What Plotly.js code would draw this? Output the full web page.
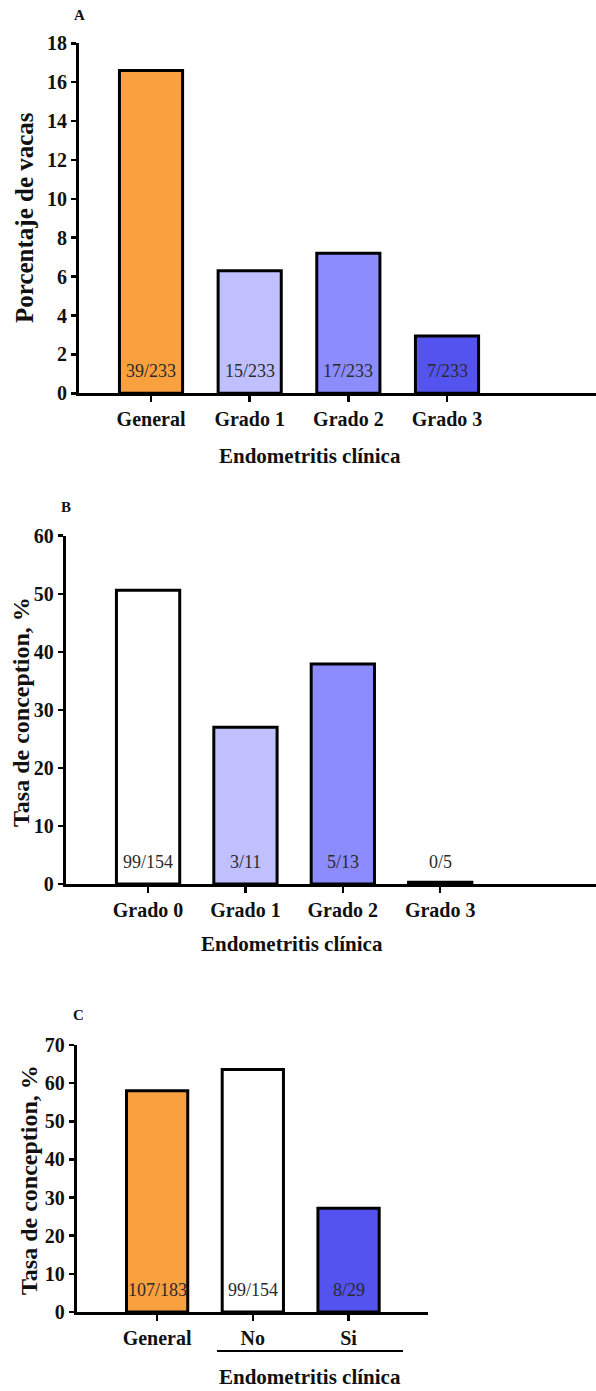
<!DOCTYPE html>
<html>
<head>
<meta charset="utf-8">
<script src="https://cdn.plot.ly/plotly-3.0.1.min.js"></script>
<style>html,body{margin:0;padding:0;background:#fff;}#chart{width:596px;height:1391px;}</style>
</head>
<body>
<div id="chart"></div>
<script>
// Panel A
const catsA = ['General', 'Grado 1', 'Grado 2', 'Grado 3'];
const valsA = [16.6, 6.3, 7.2, 2.95];
const countsA = ['39/233', '15/233', '17/233', '7/233'];
const colorsA = ['#F9A03F', '#C0BFFF', '#8D8CFF', '#5553F0'];
// Panel B
const catsB = ['Grado 0', 'Grado 1', 'Grado 2', 'Grado 3'];
const valsB = [50.6, 27.0, 37.9, 0.3];
const countsB = ['99/154', '3/11', '5/13', '0/5'];
const colorsB = ['#FFFFFF', '#C0BFFF', '#8D8CFF', '#5553F0'];
// Panel C
const catsC = ['General', 'No', 'Si'];
const valsC = [58.0, 63.6, 27.2];
const countsC = ['107/183', '99/154', '8/29'];
const colorsC = ['#F9A03F', '#FFFFFF', '#5553F0'];

const W = 596, H = 1391;
const FONT = 'Liberation Serif, Times New Roman, serif';
const px = v => v / W;
const py = v => 1 - v / H;

function barTrace(cats, vals, colors, xa, ya, width) {
  return {
    type: 'bar', x: cats, y: vals, xaxis: xa, yaxis: ya, width: width,
    marker: {color: colors, line: {color: '#000', width: 3}},
    hoverinfo: 'skip', showlegend: false
  };
}

const data = [
  barTrace(catsA, valsA, colorsA, 'x', 'y', 0.64),
  barTrace(catsB, valsB, colorsB, 'x2', 'y2', 0.65),
  barTrace(catsC, valsC, colorsC, 'x3', 'y3', 0.64)
];

function xAxis(domain, range, anchor) {
  return {
    domain: domain, range: range, anchor: anchor, type: 'category',
    showline: true, linecolor: '#000', linewidth: 3,
    ticks: 'outside', ticklen: 6, tickwidth: 2.5, tickcolor: '#000',
    showgrid: false, zeroline: false, fixedrange: true,
    tickfont: {family: FONT, size: 20, color: '#111', weight: 'bold'}
  };
}
function yAxis(domain, range, dtick, anchor) {
  return {
    domain: domain, range: range, dtick: dtick, anchor: anchor,
    showline: true, linecolor: '#000', linewidth: 3,
    ticks: 'outside', ticklen: 5, tickwidth: 2.5, tickcolor: '#000',
    showgrid: false, zeroline: false, fixedrange: true,
    tickfont: {family: FONT, size: 20, color: '#111', weight: 'bold'}
  };
}

const annotations = [];
function counts(cats, labels, xa, ya) {
  cats.forEach((c, i) => annotations.push({
    x: c, y: 0, xref: xa, yref: ya, text: labels[i], showarrow: false,
    yanchor: 'middle', xanchor: 'center', yshift: 22,
    font: {family: FONT, size: 18, color: '#2a2a2a'}
  }));
}
counts(catsA, countsA, 'x', 'y');
counts(catsB, countsB, 'x2', 'y2');
counts(catsC, countsC, 'x3', 'y3');

function ptext(text, x, y, size, angle) {
  annotations.push({
    xref: 'paper', yref: 'paper', x: px(x), y: py(y), text: text, showarrow: false,
    xanchor: 'center', yanchor: 'middle', textangle: angle || 0,
    font: {family: FONT, size: size, color: '#111', weight: 'bold'}
  });
}
ptext('A', 79, 15, 15);
ptext('B', 66, 507, 15);
ptext('C', 78, 1015, 15);
ptext('Porcentaje de vacas', 25, 218, 25, -90);
ptext('Tasa de conception, %', 21, 712, 24, -90);
ptext('Tasa de conception, %', 29, 1180, 24, -90);
ptext('Endometritis clínica', 310, 456, 21);
ptext('Endometritis clínica', 292, 944, 21);
ptext('Endometritis clínica', 310, 1377, 21);

const layout = {
  width: W, height: H,
  margin: {l: 0, r: 0, t: 0, b: 0},
  paper_bgcolor: '#fff', plot_bgcolor: '#fff',
  bargap: 0,
  xaxis: xAxis([px(79), 1], [-0.73, 4.51], 'y'),
  yaxis: yAxis([py(393.3), py(43.3)], [0, 18], 2, 'x'),
  xaxis2: xAxis([px(65.7), 1], [-0.846, 4.60], 'y2'),
  yaxis2: yAxis([py(884), py(535.7)], [0, 60], 10, 'x2'),
  xaxis3: xAxis([px(76.7), px(428)], [-0.84, 2.83], 'y3'),
  yaxis3: yAxis([py(1312), py(1045)], [0, 70], 10, 'x3'),
  annotations: annotations,
  shapes: [{
    type: 'line', xref: 'paper', yref: 'paper',
    x0: px(217), x1: px(403), y0: py(1351), y1: py(1351),
    line: {color: '#000', width: 2}
  }]
};

Plotly.newPlot('chart', data, layout, {displayModeBar: false, staticPlot: true});
</script>
</body>
</html>
